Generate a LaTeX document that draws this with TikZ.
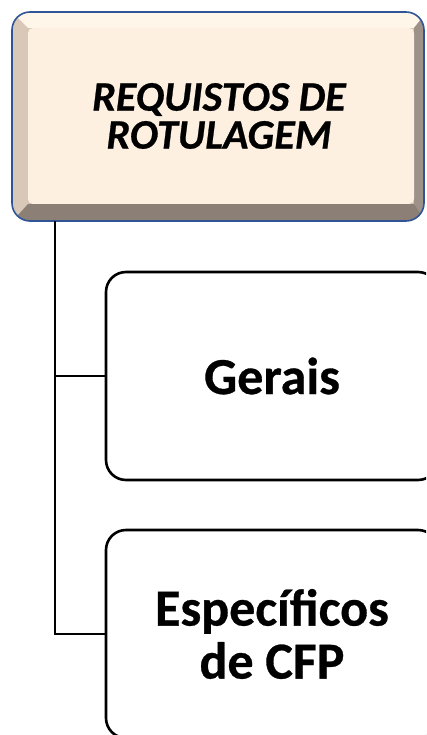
\documentclass[tikz,border=0pt]{standalone}
\usepackage{fontspec}
\setmainfont{Carlito}
\newfontface\heavyB{Carlito Bold}[FakeBold=0.6]
\newfontface\heavyBI{Carlito Bold Italic}[FakeBold=0.6]
\begin{document}
\begin{tikzpicture}[x=1pt,y=-1pt,
  childbox/.style={draw=black, line width=2.6pt, rounded corners=20pt, fill=white,
    minimum width=332pt, minimum height=208pt, align=center, inner sep=0pt,
    font=\fontsize{52}{53}\selectfont\heavyB},
  conn/.style={draw=black, line width=2.6pt},
  toptext/.style={align=center, font=\fontsize{42}{38}\selectfont\heavyBI}]
\useasboundingbox (0,0) rectangle (426,735);
\clip (0,0) rectangle (426,735);
\definecolor{faceC}{HTML}{FDF0E1}
\definecolor{leftC}{HTML}{D9C7B7}
\definecolor{topC}{HTML}{FFF6EA}
\definecolor{rightC}{HTML}{9E9288}
\definecolor{botC}{HTML}{8B7F76}
\definecolor{rimC}{HTML}{2F5597}
% bevelled top box
\begin{scope}
  \clip[rounded corners=18pt] (12,12) rectangle (424,221);
  \fill[leftC] (0,0) rectangle (436,235);
  \fill[topC] (0,0) -- (436,0) -- (414,28) -- (28,28) -- cycle;
  \fill[rightC] (436,0) -- (436,235) -- (414,204) -- (414,28) -- cycle;
  \fill[botC] (0,235) -- (436,235) -- (414,204) -- (28,204) -- cycle;
  \fill[faceC, rounded corners=5pt] (28,28) rectangle (414,204);
\end{scope}
\draw[rimC, line width=1.6pt, rounded corners=18pt] (12,12) rectangle (424,221);
\node[toptext] (top) at (219,116) {REQUISTOS DE\\ROTULAGEM};
% children
\node[childbox] (g) at (272,376) {Gerais};
\node[childbox] (s) at (272,634) {Específicos\\de CFP};
% connectors
\coordinate (trunk) at (55,221);
\draw[conn] (trunk) |- (s.west);
\draw[conn] (trunk |- g.west) -- (g.west);
\end{tikzpicture}
\end{document}
